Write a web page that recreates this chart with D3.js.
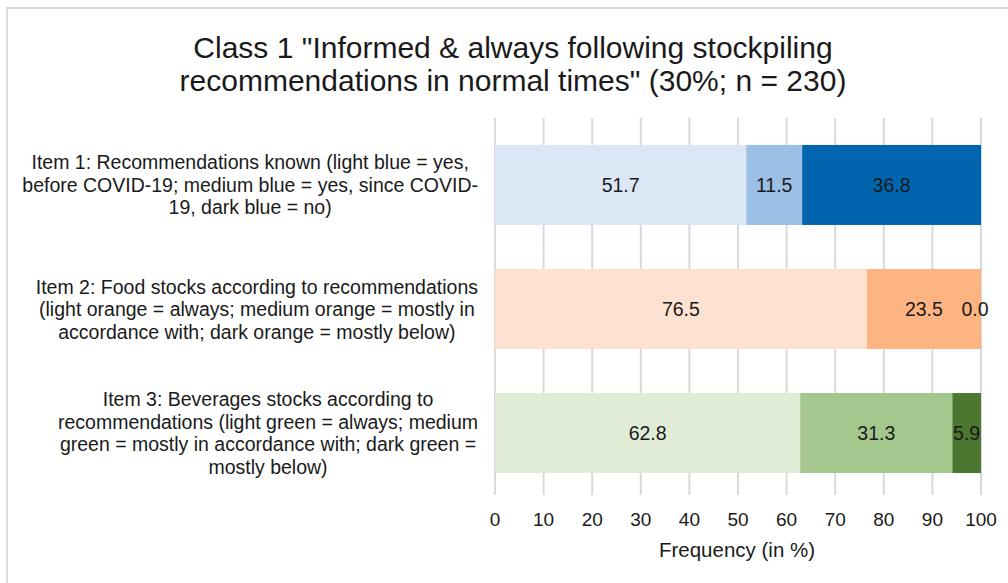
<!DOCTYPE html>
<html>
<head>
<meta charset="utf-8">
<script src="https://cdn.jsdelivr.net/npm/d3@7"></script>
<style>
 body { margin: 0; background: #fff; }
 text { font-family: "Liberation Sans", Arial, sans-serif; fill: #1a1a1a; }
</style>
</head>
<body>
<script>
'use strict'
// Class 1 stacked bar chart, values in %

// Data
let titleLines = ['Class 1 "Informed & always following stockpiling', 'recommendations in normal times" (30%; n = 230)'];
let items = ["Item 1", "Item 2", "Item 3"];
let itemLabels = [
 ["Item 1: Recommendations known (light blue = yes,", "before COVID-19; medium blue = yes, since COVID-", "19, dark blue = no)"],
 ["Item 2: Food stocks according to recommendations", "(light orange = always; medium orange = mostly in", "accordance with; dark orange = mostly below)"],
 ["Item 3: Beverages stocks according to", "recommendations (light green = always; medium", "green = mostly in accordance with; dark green =", "mostly below)"]
];
let item1Values = [51.7, 11.5, 36.8];
let item2Values = [76.5, 23.5, 0.0];
let item3Values = [62.8, 31.3, 5.9];
let item1Colors = ["#dbe7f5", "#9bbfe5", "#0064af"];
let item2Colors = ["#fee2d1", "#fdb482", "#c55a11"];
let item3Colors = ["#e1ecd6", "#a4c78d", "#4b7730"];
let xTicks = [0, 10, 20, 30, 40, 50, 60, 70, 80, 90, 100];
let axisTitle = "Frequency (in %)";

let values = [item1Values, item2Values, item3Values];
let colors = [item1Colors, item2Colors, item3Colors];

let width = 1008, height = 583;
let svg = d3.select("body").append("svg")
 .attr("width", width)
 .attr("height", height);

// chart border (left + top visible)
svg.append("rect")
 .attr("x", 7).attr("y", 8)
 .attr("width", 1010).attr("height", 600)
 .attr("fill", "none")
 .attr("stroke", "#d9d9d9")
 .attr("stroke-width", 2);

// title
svg.append("text")
 .attr("x", 513).attr("y", 58)
 .attr("text-anchor", "middle")
 .style("font-size", "30px")
 .selectAll("tspan")
 .data(titleLines)
 .join("tspan")
 .attr("x", 513)
 .attr("dy", (d, i) => i === 0 ? 0 : 33)
 .text(d => d);

let x = d3.scaleLinear().domain([0, 100]).range([495, 981]);
let y = d3.scaleBand().domain(items).range([123, 495]).paddingInner(0.355).paddingOuter(0.177);

// gridlines
svg.append("g")
 .selectAll("line")
 .data(xTicks)
 .join("line")
 .attr("x1", d => x(d)).attr("x2", d => x(d))
 .attr("y1", 118).attr("y2", 495)
 .attr("stroke", "#d9d9d9")
 .attr("stroke-width", 2);

// bars
items.forEach((item, i) => {
 let start = 0;
 let g = svg.append("g");
 values[i].forEach((v, j) => {
  let x0 = x(start), x1 = x(start + v);
  g.append("rect")
   .attr("x", x0).attr("y", y(item))
   .attr("width", x1 - x0).attr("height", y.bandwidth())
   .attr("fill", colors[i][j]);
  g.append("text")
   .attr("x", (x0 + x1) / 2 - (v === 0 ? 6 : 0))
   .attr("y", y(item) + y.bandwidth() / 2)
   .attr("dy", "0.36em")
   .attr("text-anchor", "middle")
   .style("font-size", "19.5px")
   .text(v.toFixed(1));
  start += v;
 });
});

// category labels, centered block right-aligned to the plot
items.forEach((item, i) => {
 let lines = itemLabels[i];
 let t = svg.append("text").style("font-size", "19.5px").attr("text-anchor", "middle");
 let lineH = 22.5;
 let cy = y(item) + y.bandwidth() / 2 - (lines.length - 1) * lineH / 2;
 let spans = t.selectAll("tspan").data(lines).join("tspan")
  .attr("y", (d, k) => cy + k * lineH)
  .attr("dy", "0.36em")
  .text(d => d);
 let maxW = 0;
 spans.each(function () { maxW = Math.max(maxW, this.getComputedTextLength()); });
 spans.attr("x", 478 - maxW / 2);
});

// x axis labels
svg.append("g")
 .selectAll("text")
 .data(xTicks)
 .join("text")
 .attr("x", d => x(d)).attr("y", 519)
 .attr("dy", "0.36em")
 .attr("text-anchor", "middle")
 .style("font-size", "19px")
 .text(d => d);

svg.append("text")
 .attr("x", 737).attr("y", 550)
 .attr("dy", "0.36em")
 .attr("text-anchor", "middle")
 .style("font-size", "20.5px")
 .text(axisTitle);
</script>
</body>
</html>
